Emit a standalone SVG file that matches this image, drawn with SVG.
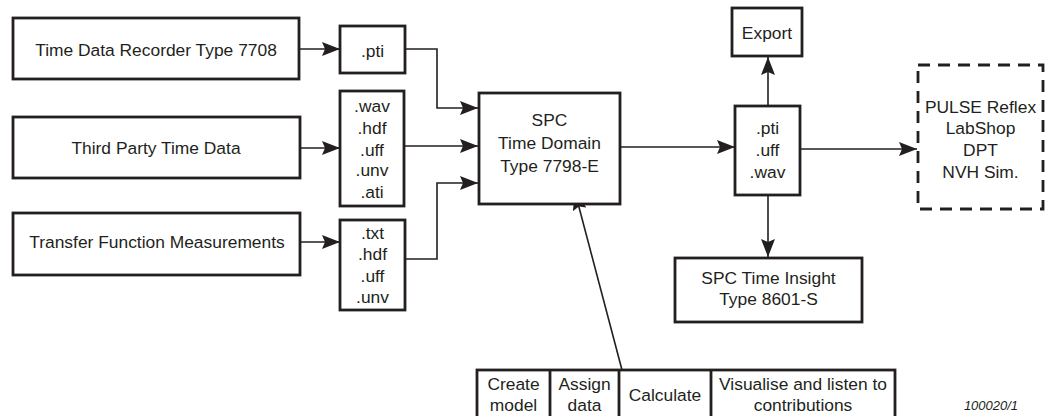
<svg xmlns="http://www.w3.org/2000/svg" width="1047" height="416" viewBox="0 0 1047 416">
<style>
  .box { fill: #fff; stroke: #231f20; stroke-width: 2.8; }
  .dash { fill: #fff; stroke: #231f20; stroke-width: 2.8; stroke-dasharray: 12 8; }
  .t { font-family: "Liberation Sans", Arial, sans-serif; font-size: 17.4px; fill: #231f20; text-anchor: middle; }
  .cap { font-family: "Liberation Sans", Arial, sans-serif; font-size: 13px; font-style: italic; fill: #231f20; text-anchor: middle; }
  .c { fill: none; stroke: #231f20; stroke-width: 1.6; }
</style>
<defs>
  <marker id="ah" markerUnits="userSpaceOnUse" markerWidth="18" markerHeight="14" refX="18" refY="7" orient="auto" viewBox="0 0 18 14">
    <path d="M0,0 L18,7 L0,14 L3,7 z" fill="#231f20"/>
  </marker>
</defs>
<rect width="1047" height="416" fill="#fff"/>
<g id="connectors">
  <line class="c" x1="300" y1="49" x2="340" y2="49" marker-end="url(#ah)"/>
  <line class="c" x1="300" y1="148" x2="340" y2="148" marker-end="url(#ah)"/>
  <line class="c" x1="300" y1="242" x2="340" y2="242" marker-end="url(#ah)"/>
  <polyline class="c" points="405,49 437,49 437,108 478,108" marker-end="url(#ah)"/>
  <line class="c" x1="404" y1="146" x2="478" y2="146" marker-end="url(#ah)"/>
  <polyline class="c" points="405,259 437,259 437,183 478,183" marker-end="url(#ah)"/>
  <line class="c" x1="620" y1="147" x2="735" y2="147" marker-end="url(#ah)"/>
  <line class="c" x1="768" y1="106" x2="768" y2="57" marker-end="url(#ah)"/>
  <line class="c" x1="800" y1="149" x2="917" y2="149" marker-end="url(#ah)"/>
  <line class="c" x1="768" y1="195" x2="768" y2="257" marker-end="url(#ah)"/>
  <line class="c" x1="622" y1="370" x2="575" y2="192" marker-end="url(#ah)"/>
</g>
<g id="n-recorder">
  <rect class="box" x="13" y="18" width="286" height="61"/>
  <text class="t" x="156" y="56">Time Data Recorder Type 7708</text>
</g>
<g id="n-thirdparty">
  <rect class="box" x="13" y="117" width="287" height="61"/>
  <text class="t" x="156" y="154">Third Party Time Data</text>
</g>
<g id="n-transfer">
  <rect class="box" x="13" y="213" width="287" height="62"/>
  <text class="t" x="157" y="248">Transfer Function Measurements</text>
</g>
<g id="n-pti">
  <rect class="box" x="340" y="26" width="65" height="47"/>
  <text class="t" x="372.5" y="57">.pti</text>
</g>
<g id="n-wav">
  <rect class="box" x="340" y="91" width="64" height="115"/>
  <text class="t" x="372" y="112">.wav</text>
  <text class="t" x="372" y="134">.hdf</text>
  <text class="t" x="372" y="156">.uff</text>
  <text class="t" x="372" y="176">.unv</text>
  <text class="t" x="372" y="198">.ati</text>
</g>
<g id="n-txt">
  <rect class="box" x="340" y="220" width="65" height="90"/>
  <text class="t" x="372.5" y="239">.txt</text>
  <text class="t" x="372.5" y="260">.hdf</text>
  <text class="t" x="372.5" y="282">.uff</text>
  <text class="t" x="372.5" y="303">.unv</text>
</g>
<g id="n-spc">
  <rect class="box" x="479" y="93" width="141" height="111"/>
  <text class="t" x="549.5" y="126">SPC</text>
  <text class="t" x="549.5" y="149">Time Domain</text>
  <text class="t" x="549.5" y="172">Type 7798-E</text>
</g>
<g id="n-export">
  <rect class="box" x="732" y="8" width="70" height="48"/>
  <text class="t" x="767" y="39">Export</text>
</g>
<g id="n-output">
  <rect class="box" x="735" y="106" width="65" height="89"/>
  <text class="t" x="767.5" y="134">.pti</text>
  <text class="t" x="767.5" y="156">.uff</text>
  <text class="t" x="767.5" y="178">.wav</text>
</g>
<g id="n-external">
  <rect class="dash" x="918" y="65" width="125" height="144"/>
  <text class="t" x="980.5" y="113">PULSE Reflex</text>
  <text class="t" x="980.5" y="134">LabShop</text>
  <text class="t" x="980.5" y="156">DPT</text>
  <text class="t" x="980.5" y="178">NVH Sim.</text>
</g>
<g id="n-insight">
  <rect class="box" x="675" y="258" width="187" height="64"/>
  <text class="t" x="768.5" y="284">SPC Time Insight</text>
  <text class="t" x="768.5" y="305">Type 8601-S</text>
</g>
<g id="n-workflow">
  <rect class="box" x="477" y="370" width="418" height="60"/>
  <line class="box" x1="550" y1="370" x2="550" y2="430"/>
  <line class="box" x1="619" y1="370" x2="619" y2="430"/>
  <line class="box" x1="711" y1="370" x2="711" y2="430"/>
  <text class="t" x="513.5" y="390">Create</text>
  <text class="t" x="513.5" y="411">model</text>
  <text class="t" x="584.5" y="390">Assign</text>
  <text class="t" x="584.5" y="411">data</text>
  <text class="t" x="665" y="401">Calculate</text>
  <text class="t" x="803" y="390">Visualise and listen to</text>
  <text class="t" x="803" y="411">contributions</text>
</g>
<text class="cap" x="991" y="410">100020/1</text>
</svg>
